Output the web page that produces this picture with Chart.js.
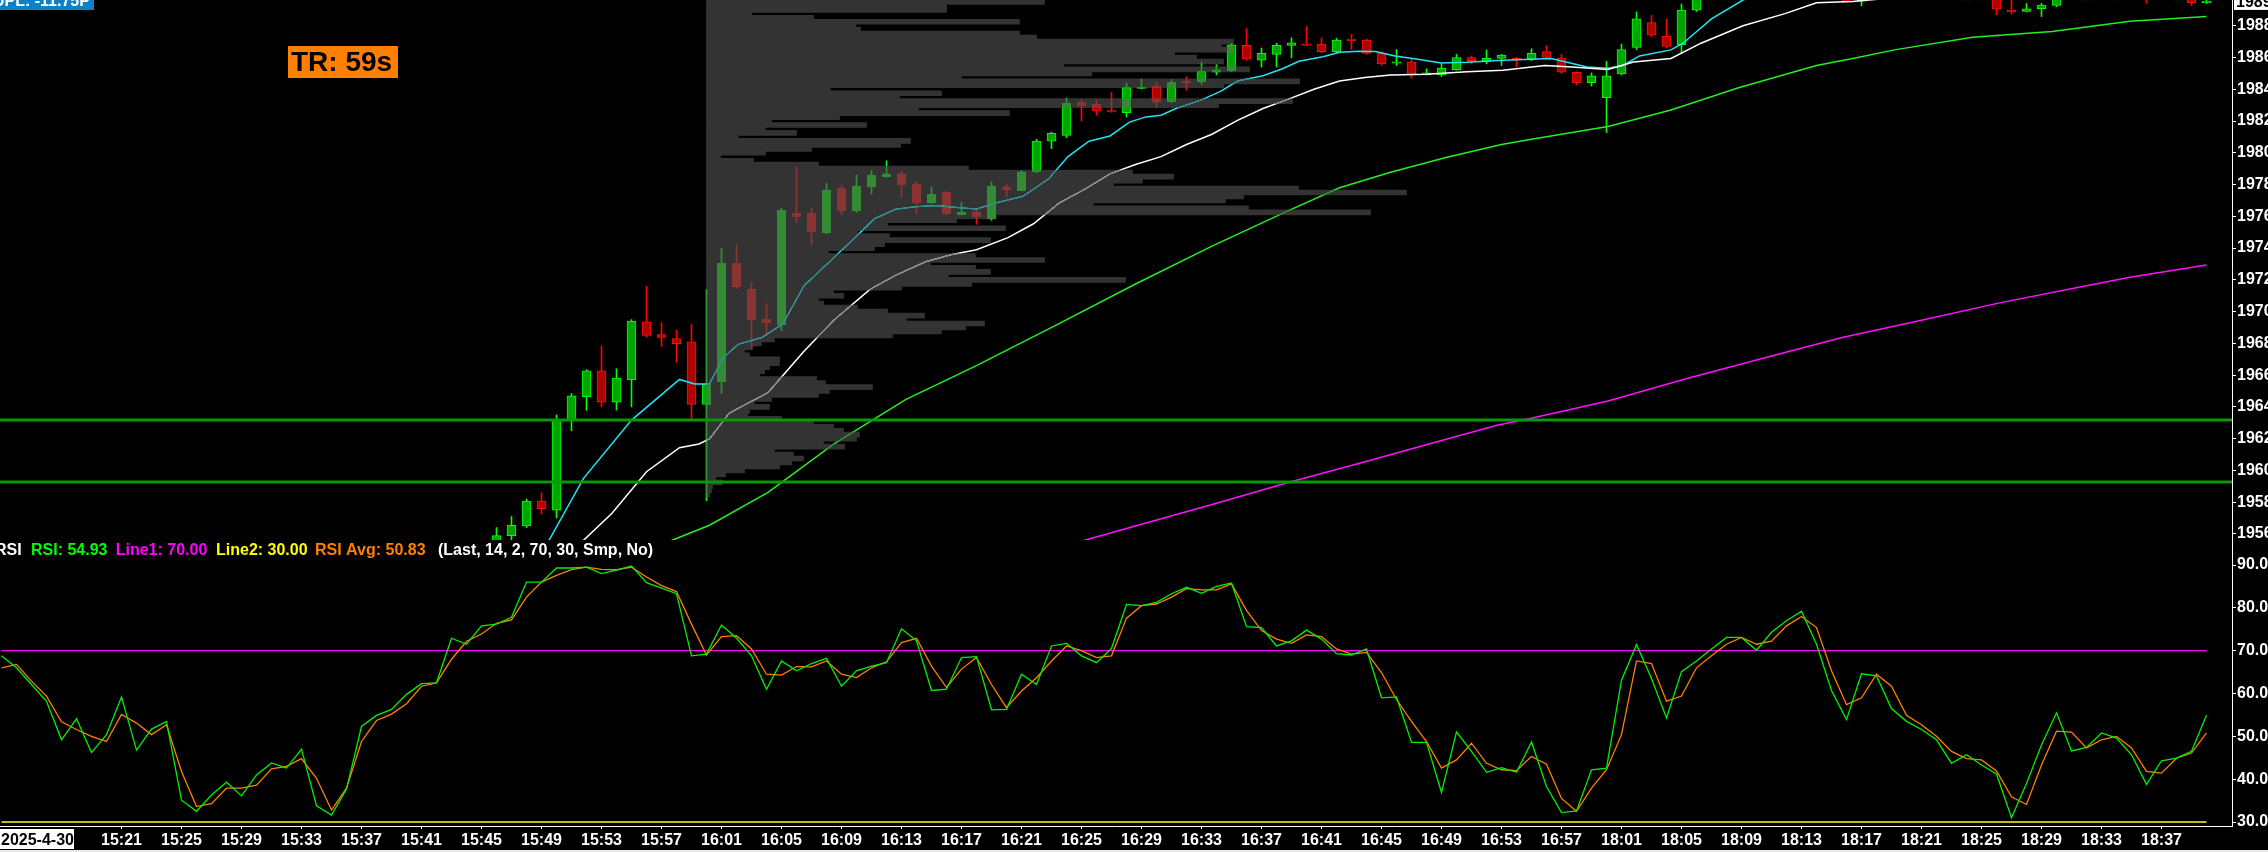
<!DOCTYPE html>
<html>
<head>
<meta charset="utf-8">
<title>Price / RSI</title>
<script src="https://cdn.jsdelivr.net/npm/chart.js@4.4.1/dist/chart.umd.min.js"></script>
<style>
  html, body { margin: 0; padding: 0; background: #e9e9e9; }
  body { width: 2268px; height: 852px; overflow: hidden; position: relative; }
  canvas { position: absolute; left: 0; background: #000; }
  #price { top: 0; }
  #rsi { top: 540px; }
</style>
</head>
<body>
<canvas id="price" width="2268" height="540"></canvas>
<canvas id="rsi" width="2268" height="310"></canvas>
<script>
// @ts-check

// ---- data ----
// bar 0 = 15:13, one bar per minute, session break 17:00-18:00
const firstBar = 33;
const opens = [
  1954.8, 1955.9, 1956.5, 1958.07, 1957.5, 1963.17, 1964.65, 1966.27, 1964.3, 1965.7,
  1969.35, 1968.55, 1968.3, 1968.1, 1964.15, 1965.6, 1973.04, 1971.4, 1969.5, 1969.2,
  1976.2, 1976.2, 1974.96, 1977.74, 1976.36, 1977.87, 1978.5, 1978.67, 1978.03, 1976.87,
  1977.5, 1976.1, 1976.29, 1975.85, 1977.85, 1977.6, 1978.8, 1980.73, 1981.1, 1983.18,
  1983.05, 1982.63, 1982.53, 1984.05, 1984.2, 1983.22, 1984.52, 1984.5, 1985.07, 1985.18,
  1986.76, 1985.83, 1986.2, 1986.76, 1986.78, 1986.85, 1986.37, 1987.08, 1987.1, 1986.3,
  1985.64, 1985.72, 1984.92, 1984.92, 1985.24, 1986.0, 1985.76, 1985.94, 1985.94, 1985.9,
  1986.37, 1985.98, 1985.07, 1984.42, 1983.47, 1984.96, 1986.63, 1988.2, 1987.35, 1986.8,
  1988.98, 1990.2, 1990.6, 1991.0, 1991.0, 1990.7, 1991.3, 1991.8, 1992.2, 1991.3,
  1990.2, 1989.55, 1990.4, 1990.35, 1990.1, 1990.0, 1989.95, 1989.9, 1989.8, 1989.85,
  1989.8, 1988.98, 1988.9, 1989.08, 1989.28, 1989.9, 1989.7, 1989.75, 1989.9, 1989.85,
  1989.75, 1989.65, 1989.8, 1989.8, 1989.45
];
const highs = [
  1956.4, 1957.1, 1958.2, 1958.6, 1963.5, 1964.84, 1966.35, 1967.84, 1966.4, 1969.5,
  1971.6, 1969.3, 1968.84, 1969.2, 1971.4, 1974.0, 1974.2, 1971.84, 1970.5, 1976.5,
  1979.1, 1976.5, 1978.07, 1977.97, 1978.6, 1978.86, 1979.5, 1978.82, 1978.18, 1977.85,
  1977.6, 1976.9, 1976.5, 1978.18, 1978.03, 1978.86, 1980.84, 1981.3, 1983.45, 1983.33,
  1983.3, 1983.8, 1984.4, 1984.64, 1984.46, 1984.6, 1984.8, 1985.72, 1985.55, 1986.9,
  1987.82, 1986.6, 1986.9, 1987.24, 1987.95, 1987.24, 1987.2, 1987.46, 1987.15, 1986.35,
  1986.5, 1985.9, 1985.29, 1985.6, 1986.2, 1986.1, 1986.48, 1986.2, 1986.0, 1986.55,
  1986.74, 1986.2, 1985.1, 1985.03, 1985.76, 1986.85, 1988.87, 1988.65, 1988.43, 1989.37,
  1990.4, 1990.8, 1991.2, 1991.3, 1991.1, 1991.5, 1992.0, 1992.4, 1992.3, 1991.4,
  1990.4, 1990.5, 1990.6, 1990.4, 1990.2, 1990.1, 1990.0, 1990.0, 1990.0, 1989.95,
  1989.85, 1989.7, 1989.4, 1989.42, 1990.0, 1990.0, 1989.85, 1990.0, 1990.0, 1989.9,
  1989.85, 1989.9, 1989.9, 1989.9, 1989.7
];
const lows = [
  1954.5, 1955.3, 1956.4, 1957.25, 1957.0, 1962.5, 1963.78, 1964.0, 1963.8, 1964.0,
  1968.4, 1967.8, 1966.8, 1963.2, 1958.1, 1964.84, 1971.45, 1967.7, 1968.5, 1968.8,
  1975.6, 1974.2, 1974.9, 1976.08, 1976.24, 1977.4, 1978.46, 1977.16, 1976.14, 1976.8,
  1976.1, 1976.08, 1975.5, 1975.75, 1977.22, 1977.6, 1978.74, 1980.26, 1980.95, 1982.0,
  1982.36, 1982.55, 1982.25, 1984.03, 1982.86, 1983.16, 1983.94, 1984.3, 1984.9, 1985.1,
  1985.83, 1985.4, 1985.4, 1985.98, 1986.75, 1986.3, 1986.26, 1986.5, 1986.2, 1985.5,
  1985.5, 1984.68, 1984.9, 1984.8, 1985.2, 1985.6, 1985.6, 1985.5, 1985.4, 1985.8,
  1985.9, 1985.0, 1984.27, 1984.2, 1981.27, 1984.9, 1986.5, 1987.3, 1986.6, 1986.26,
  1988.9, 1990.0, 1990.4, 1990.7, 1990.5, 1990.6, 1991.2, 1991.6, 1991.1, 1990.1,
  1989.5, 1989.25, 1990.2, 1989.9, 1989.8, 1989.8, 1989.75, 1989.7, 1989.7, 1989.7,
  1988.68, 1988.74, 1988.87, 1988.58, 1989.2, 1989.65, 1989.65, 1989.7, 1989.75, 1989.65,
  1989.42, 1989.65, 1989.7, 1989.27, 1989.4
];
const closes = [
  1955.9, 1956.55, 1958.07, 1957.6, 1963.17, 1964.7, 1966.27, 1964.3, 1965.82, 1969.4,
  1968.5, 1968.38, 1967.98, 1964.15, 1965.45, 1973.04, 1971.58, 1969.5, 1969.3, 1976.4,
  1976.0, 1975.05, 1977.65, 1976.36, 1977.9, 1978.6, 1978.67, 1978.0, 1976.87, 1977.4,
  1976.18, 1976.24, 1976.0, 1977.9, 1977.7, 1978.8, 1980.74, 1981.23, 1983.12, 1982.97,
  1982.62, 1982.57, 1984.1, 1984.11, 1983.18, 1984.42, 1984.38, 1985.14, 1985.22, 1986.8,
  1985.9, 1986.26, 1986.76, 1986.92, 1986.76, 1986.37, 1987.1, 1987.06, 1986.26, 1985.6,
  1985.66, 1984.92, 1985.03, 1985.33, 1986.0, 1985.8, 1985.94, 1986.15, 1985.83, 1986.26,
  1986.0, 1985.07, 1984.42, 1984.85, 1984.85, 1986.5, 1988.43, 1987.4, 1986.7, 1988.98,
  1990.2, 1990.6, 1991.0, 1991.0, 1990.7, 1991.3, 1991.8, 1992.2, 1991.3, 1990.2,
  1989.52, 1990.4, 1990.35, 1990.1, 1990.0, 1989.95, 1989.9, 1989.8, 1989.85, 1989.8,
  1989.04, 1988.87, 1989.06, 1989.3, 1989.9, 1989.7, 1989.75, 1989.9, 1989.85, 1989.7,
  1989.65, 1989.8, 1989.8, 1989.45, 1989.5
];

// moving averages, [bar, price]
const emaFast = [
  [34, 1951.5], [36.5, 1955.6], [38.8, 1959.5], [42, 1963.17], [45.2, 1965.73], [46.2, 1965.45],
  [47.2, 1965.45], [48.1, 1967.08], [49.1, 1967.94], [50.7, 1968.37], [52.1, 1969.24], [53.5, 1971.63],
  [55.2, 1973.14], [56.9, 1974.66], [58.2, 1975.85], [59.6, 1976.44], [60.9, 1976.6], [62.3, 1976.68],
  [63.7, 1976.55], [65, 1976.46], [66.4, 1976.87], [68.1, 1977.26], [69.8, 1978.35], [71.1, 1979.76],
  [72.5, 1980.73], [73.9, 1981.06], [75.2, 1981.93], [76.3, 1982.26], [77.3, 1982.36], [78.3, 1982.79],
  [80, 1983.33], [81.3, 1983.88], [82.4, 1984.52], [84.1, 1984.85], [85.4, 1985.29], [86.5, 1985.76],
  [88.1, 1986.05], [89.2, 1986.33], [90.5, 1986.4], [91.6, 1986.37], [92.9, 1986.1], [94.3, 1985.9],
  [96, 1985.66], [97.7, 1985.7], [100.1, 1985.83], [103.3, 1985.94], [104.3, 1985.72], [105.7, 1985.4],
  [107.1, 1985.33], [108.1, 1985.5], [109.2, 1986.1], [111.3, 1986.48], [112.1, 1986.9], [114, 1988.43],
  [116.1, 1989.62], [118, 1990.3], [120, 1990.8], [124, 1990.7], [128, 1990.4], [133, 1990.0],
  [138, 1989.85], [147, 1989.8]
];
const emaSlow = [
  [36, 1953.1], [38.8, 1955.6], [40.7, 1957.3], [43, 1959.92], [45.2, 1961.43], [46.5, 1961.67],
  [47.2, 1961.98], [48.5, 1963.6], [49.8, 1964.25], [51.1, 1964.9], [53.5, 1967.5], [55.5, 1969.47],
  [57.9, 1971.4], [59.6, 1972.28], [61.6, 1973.14], [63.3, 1973.58], [65, 1973.9], [67.1, 1974.66],
  [68.8, 1975.53], [70.5, 1976.83], [72.2, 1977.7], [73.9, 1978.67], [75.6, 1979.26], [77.3, 1979.76],
  [79, 1980.52], [80.7, 1981.17], [82.4, 1982.04], [84.1, 1982.79], [85.8, 1983.38], [87.5, 1984.0],
  [89.2, 1984.52], [90.9, 1984.74], [92.6, 1984.9], [95, 1984.94], [97.7, 1985.1], [100.1, 1985.2],
  [102.9, 1985.5], [104.7, 1985.4], [107.1, 1985.24], [108.8, 1985.72], [111.3, 1985.94], [113.3, 1986.9],
  [116.1, 1988.0], [118.9, 1988.76], [121, 1989.45], [123.4, 1989.52], [126, 1989.75], [132, 1989.9],
  [147, 1989.9]
];
const sma50 = [
  [40, 1953.8], [44.7, 1955.6], [47.2, 1956.55], [51.1, 1958.62], [55.5, 1961.67], [60.3, 1964.47],
  [65, 1966.6], [70.5, 1969.24], [75.6, 1971.74], [80.7, 1974.12], [85.8, 1976.36], [89.2, 1977.8],
  [92.6, 1978.78], [96.3, 1979.7], [100, 1980.52], [101.9, 1980.84], [107.1, 1981.65], [111.3, 1982.69],
  [115.8, 1984.1], [121, 1985.5], [123.5, 1985.95], [126.2, 1986.48], [131.4, 1987.28], [136.7, 1987.63],
  [141.9, 1988.28], [147, 1988.58]
];
const sma200 = [
  [65, 1953.8], [72.2, 1955.6], [80.7, 1957.86], [85.9, 1959.27], [90.6, 1960.47], [95.7, 1961.8],
  [99.7, 1962.84], [101.9, 1963.27], [107.1, 1964.37], [112.3, 1965.77], [117.5, 1967.08], [122.7, 1968.37],
  [128, 1969.46], [133.2, 1970.55], [138.4, 1971.52], [141.9, 1972.17], [147, 1972.94]
];

const supportLevels = [1963.17, 1959.27];

// volume profile from 16:00, one row per 0.25 from the top row down
const profileTop = 1989.5;
const profileStep = 0.25;
const profileStartBar = 47;
const profileVolume = [
  338, 240, 240, 45, 107, 313, 149, 154, 313, 330,
  527, 515, 527, 468, 490, 517, 357, 543, 385, 255,
  593, 517, 124, 235, 193, 586, 512, 212, 303, 133,
  65, 160, 59, 90, 32, 204, 194, 105, 59, 14,
  47, 112, 262, 426, 467, 436, 407, 592, 700, 537,
  519, 387, 542, 664, 289, 250, 181, 299, 151, 183,
  284, 178, 168, 122, 269, 338, 224, 269, 284, 242,
  419, 265, 195, 127, 137, 112, 117, 151, 181, 218,
  200, 278, 259, 235, 186, 68, 55, 46, 38, 43,
  73, 73, 63, 58, 53, 110, 119, 166, 123, 112,
  65, 48, 63, 43, 41, 75, 107, 127, 137, 153,
  150, 117, 138, 68, 87, 97, 85, 73, 38, 19,
  9, 16, 6, 5, 3
];

// RSI panel, one value per bar from bar 0
const rsi = [
  68.8, 66.0, 62.1, 58.2, 49.2, 54.1, 46.2, 50.4, 59.2, 46.8,
  51.7, 53.5, 35.1, 32.5, 36.3, 39.3, 36.1, 41.0, 43.8, 42.6,
  47.0, 33.8, 31.6, 37.7, 52.3, 54.9, 56.3, 59.8, 62.3, 62.5,
  72.9, 71.5, 75.8, 76.2, 77.8, 86.0, 86.0, 89.3, 89.3, 89.5,
  88.0, 88.8, 89.8, 85.9, 84.6, 83.3, 68.8, 69.2, 76.0, 72.9,
  68.8, 61.0, 67.6, 65.3, 67.0, 68.2, 61.7, 65.3, 66.4, 67.2,
  75.1, 72.3, 60.7, 61.0, 68.4, 68.6, 56.2, 56.3, 64.5, 62.1,
  71.1, 71.7, 68.8, 67.2, 70.5, 80.8, 80.5, 81.3, 83.3, 84.8,
  83.4, 85.0, 85.8, 75.6, 75.4, 71.1, 72.3, 74.8, 72.7, 69.3,
  69.0, 70.4, 59.0, 59.2, 48.6, 48.6, 36.9, 51.0, 46.5, 41.6,
  42.7, 41.6, 48.7, 38.3, 32.2, 32.6, 42.2, 42.6, 63.1, 71.4,
  63.5, 54.3, 65.1, 67.6, 70.4, 73.1, 73.1, 70.1, 74.3, 77.0,
  79.2, 71.5, 60.7, 53.9, 64.6, 64.1, 56.5, 53.5, 51.6, 49.2,
  43.7, 45.7, 43.3, 41.2, 31.0, 39.0, 48.0, 55.5, 46.6, 47.4,
  50.8, 49.6, 45.7, 38.8, 44.3, 44.9, 46.5, 54.93
];
const rsiAvg = [
  66.0, 66.8, 62.9, 59.4, 53.4, 51.6, 50.0, 48.8, 55.1, 53.1,
  50.4, 52.7, 41.8, 33.6, 34.3, 37.9, 37.9, 38.6, 42.4, 43.0,
  44.8, 40.2, 32.8, 37.9, 48.8, 53.7, 55.2, 57.6, 61.7, 62.5,
  68.0, 72.2, 73.9, 76.4, 77.2, 82.5, 86.0, 87.6, 88.9, 89.5,
  89.0, 88.9, 89.5, 87.2, 85.2, 83.8, 76.2, 69.0, 73.3, 73.5,
  70.4, 64.5, 64.3, 66.3, 66.2, 67.6, 64.5, 63.7, 66.0, 67.4,
  71.9, 72.9, 66.4, 61.4, 65.7, 68.4, 62.1, 56.7, 60.6, 63.7,
  67.6, 71.1, 70.0, 68.4, 68.8, 77.6, 80.5, 80.9, 82.5, 84.5,
  84.2, 84.2, 85.6, 79.4, 74.7, 72.7, 71.7, 73.7, 73.3, 70.4,
  69.2, 69.6, 64.9, 58.6, 53.5, 48.8, 42.6, 44.5, 48.4, 43.7,
  42.2, 42.0, 45.3, 43.5, 35.5, 32.5, 37.9, 42.2, 50.4, 67.6,
  67.0, 58.2, 59.4, 66.0, 68.8, 71.5, 73.1, 71.5, 72.2, 75.8,
  78.0, 75.4, 65.3, 57.4, 59.0, 64.5, 61.7, 54.9, 52.7, 50.0,
  46.5, 44.8, 44.5, 41.9, 35.9, 34.1, 43.3, 51.2, 51.0, 47.3,
  49.2, 50.0, 47.3, 41.8, 41.4, 44.9, 46.1, 50.83
];
const rsiLine1 = 70;
const rsiLine2 = 30;

const timeLabels = [
  '15:21', '15:25', '15:29', '15:33', '15:37', '15:41', '15:45', '15:49', '15:53', '15:57',
  '16:01', '16:05', '16:09', '16:13', '16:17', '16:21', '16:25', '16:29', '16:33', '16:37',
  '16:41', '16:45', '16:49', '16:53', '16:57',
  '18:01', '18:05', '18:09', '18:13', '18:17', '18:21', '18:25', '18:29', '18:33', '18:37'
];
const priceTicks = [1956, 1958, 1960, 1962, 1964, 1966, 1968, 1970, 1972, 1974, 1976, 1978, 1980, 1982, 1984, 1986, 1988];
const rsiTicks = [30, 40, 50, 60, 70, 80, 90];


// ---- layout ----
const AXIS_W = 36;
const PLOT_W = 2268 - AXIS_W;
const BAR_PX = 15;
const xMin = -0.1;
const xMax = xMin + PLOT_W / BAR_PX;
const priceMin = 1955.62, priceMax = 1989.62;
const rsiMin = 29.07, rsiMax = 95.84;
const FONT = '"Liberation Sans", Arial, sans-serif';
const tickFont = { family: FONT, size: 16, weight: 'bold' };

Chart.defaults.font.family = FONT;

// minutes since 15:13, skipping the 17:00-18:00 break
function barOf(t) {
  const [h, m] = t.split(':').map(Number);
  let n = h * 60 + m - (15 * 60 + 13);
  if (h >= 18) n -= 60;
  return n;
}

const isUp = (k) => closes[k] >= opens[k];
const candleBars = opens.map((_, k) => firstBar + k);
const lastBar = rsi.length - 1;
const pts = (arr) => arr.map(([x, y]) => ({ x, y }));

function rightAxis(min, max, ticks, fmt) {
  return {
    type: 'linear', position: 'right', min, max, offset: false,
    afterBuildTicks: (s) => { s.ticks = ticks.map((v) => ({ value: v })); },
    afterFit: (s) => { s.width = AXIS_W; s.paddingTop = 0; s.paddingBottom = 0; },
    grid: { display: true, offset: false, drawOnChartArea: false, drawTicks: true, tickLength: 4, color: '#ffffff' },
    border: { display: true, color: '#ffffff', width: 1 },
    ticks: { color: '#ffffff', font: tickFont, padding: 1, autoSkip: false, callback: fmt }
  };
}

const lineDefaults = { type: 'line', pointRadius: 0, tension: 0, xAxisID: 'x', yAxisID: 'y', fill: false };

// paint black into the canvas so blend modes have something to work on
const blackBackground = {
  id: 'blackBackground',
  beforeDraw(chart) {
    const c = chart.ctx;
    c.save();
    c.fillStyle = '#000';
    c.fillRect(0, 0, chart.width, chart.height);
    c.restore();
  }
};

// per-dataset composite mode (profile dims what lies under it, no seams between rows)
const blendModes = {
  id: 'blendModes',
  beforeDatasetDraw(chart, args) {
    const mode = chart.data.datasets[args.index].blendMode;
    if (mode) {
      chart.ctx.save();
      chart.ctx.globalCompositeOperation = mode;
    }
  },
  afterDatasetDraw(chart, args) {
    if (chart.data.datasets[args.index].blendMode) chart.ctx.restore();
  }
};


// ---- price panel ----
const priceOverlay = {
  id: 'priceOverlay',
  afterDraw(chart) {
    const c = chart.ctx;
    c.save();
    c.textBaseline = 'alphabetic';

    c.fillStyle = '#0a82c8';
    c.fillRect(0, 0, 94, 10);
    c.fillStyle = '#ffffff';
    c.font = 'bold 16px ' + FONT;
    c.fillText('UPL: -11.75P', -7, 6);

    c.fillStyle = '#ff8000';
    c.fillRect(288, 46, 110, 32);
    c.fillStyle = '#000000';
    c.font = 'bold 28px ' + FONT;
    c.fillText('TR: 59s', 291, 70.5);

    // last price tag on the axis
    const last = closes[closes.length - 1];
    const y = chart.scales.y.getPixelForValue(last);
    c.fillStyle = '#ffffff';
    c.fillRect(PLOT_W + 2, y - 10, 40, 18);
    c.fillStyle = '#000000';
    c.font = 'bold 16px ' + FONT;
    c.fillText(last.toFixed(2), PLOT_W + 4, y + 5.5);
    c.restore();
  }
};

const profileData = profileVolume.map((v, k) => ({ x: v, y: profileTop - k * profileStep }));
const profileDefaults = {
  type: 'bar', indexAxis: 'y', xAxisID: 'xv', yAxisID: 'y',
  data: profileData, barThickness: 5, grouped: false, borderWidth: 0
};

new Chart(document.getElementById('price'), {
  type: 'bar',
  data: {
    datasets: [
      ...supportLevels.map((lvl) => ({
        ...lineDefaults,
        data: [{ x: xMin, y: lvl }, { x: xMax, y: lvl }],
        borderColor: '#089808', borderWidth: 3, order: 1
      })),
      { ...profileDefaults, backgroundColor: '#333333', blendMode: 'lighten', order: 2 },
      { ...profileDefaults, backgroundColor: '#8c8c8c', blendMode: 'darken', order: 2.5 },
      { ...lineDefaults, data: pts(sma200), borderColor: '#ff10ff', borderWidth: 1.5, order: 3 },
      { ...lineDefaults, data: pts(sma50), borderColor: '#22f022', borderWidth: 1.5, order: 3 },
      { ...lineDefaults, data: pts(emaSlow), borderColor: '#ffffff', borderWidth: 1.5, order: 3 },
      { ...lineDefaults, data: pts(emaFast), borderColor: '#22e4f4', borderWidth: 1.5, order: 3 },
      {
        type: 'bar', xAxisID: 'x', yAxisID: 'y',
        data: candleBars.map((x, k) => ({ x, y: [opens[k], closes[k]] })),
        backgroundColor: (c) => isUp(c.dataIndex) ? '#00a400' : '#b00000',
        borderColor: (c) => isUp(c.dataIndex) ? '#00ff00' : '#ff1010',
        borderWidth: 1, borderSkipped: false, barThickness: 9, minBarLength: 1.5,
        grouped: false, order: 4
      },
      {
        type: 'bar', xAxisID: 'x', yAxisID: 'y',
        data: candleBars.map((x, k) => ({ x, y: [lows[k], highs[k]] })),
        backgroundColor: (c) => isUp(c.dataIndex) ? '#00ff00' : '#ff0000',
        borderWidth: 0, barThickness: 1, grouped: false, order: 5
      }
    ]
  },
  options: {
    responsive: false,
    animation: false,
    devicePixelRatio: 1,
    events: [],
    layout: { padding: 0 },
    plugins: { legend: { display: false }, tooltip: { enabled: false } },
    scales: {
      x: { type: 'linear', display: false, offset: false, grid: { offset: false }, min: xMin, max: xMax },
      xv: {
        type: 'linear', display: false, offset: false, grid: { offset: false },
        min: -(profileStartBar - xMin) * BAR_PX,
        max: PLOT_W - (profileStartBar - xMin) * BAR_PX
      },
      y: rightAxis(priceMin, priceMax, priceTicks, (v) => String(v))
    }
  },
  plugins: [blackBackground, blendModes, priceOverlay]
});


// ---- RSI panel ----
const rsiHeader = [
  ['RSI', '#ffffff', -5],
  ['RSI: 54.93', '#00ff00', 31],
  ['Line1: 70.00', '#ff00ff', 115.7],
  ['Line2: 30.00', '#ffff00', 216],
  ['RSI Avg: 50.83', '#ff8000', 315],
  ['(Last, 14, 2, 70, 30, Smp, No)', '#ffffff', 438]
];

const rsiOverlay = {
  id: 'rsiOverlay',
  afterDraw(chart) {
    const c = chart.ctx;
    c.save();
    c.textBaseline = 'alphabetic';
    c.font = 'bold 16px ' + FONT;
    rsiHeader.forEach(([txt, col, x]) => {
      c.fillStyle = col;
      c.fillText(txt, x, 15);
    });
    const bottom = chart.chartArea.bottom;
    c.fillStyle = '#ffffff';
    c.fillRect(0, bottom + 3, 74, 20);
    c.fillStyle = '#000000';
    c.fillText('2025-4-30', 1, bottom + 19);
    c.restore();
  }
};

new Chart(document.getElementById('rsi'), {
  type: 'line',
  data: {
    datasets: [
      {
        ...lineDefaults, data: [{ x: 0, y: rsiLine1 }, { x: lastBar, y: rsiLine1 }],
        borderColor: '#ff00ff', borderWidth: 1.2, order: 3
      },
      {
        ...lineDefaults, data: [{ x: 0, y: rsiLine2 }, { x: lastBar, y: rsiLine2 }],
        borderColor: '#ffff00', borderWidth: 1.5, order: 3
      },
      { ...lineDefaults, data: rsiAvg.map((y, x) => ({ x, y })), borderColor: '#ff8000', borderWidth: 1.3, order: 2 },
      { ...lineDefaults, data: rsi.map((y, x) => ({ x, y })), borderColor: '#00f000', borderWidth: 1.3, order: 1 }
    ]
  },
  options: {
    responsive: false,
    animation: false,
    devicePixelRatio: 1,
    events: [],
    layout: { padding: 0 },
    plugins: { legend: { display: false }, tooltip: { enabled: false } },
    scales: {
      x: {
        type: 'linear', position: 'bottom', min: xMin, max: xMax, offset: false,
        afterBuildTicks: (s) => { s.ticks = timeLabels.map((t) => ({ value: barOf(t) })); },
        afterFit: (s) => { s.height = 24; s.paddingLeft = 0; s.paddingRight = 0; },
        grid: { display: true, offset: false, drawOnChartArea: false, drawTicks: true, tickLength: 3, color: '#ffffff' },
        border: { display: true, color: '#ffffff', width: 1 },
        ticks: {
          color: '#ffffff', font: tickFont, padding: 2, autoSkip: false, maxRotation: 0,
          callback: (v, i) => timeLabels[i]
        }
      },
      y: rightAxis(rsiMin, rsiMax, rsiTicks, (v) => v.toFixed(2))
    }
  },
  plugins: [rsiOverlay]
});
</script>
</body>
</html>
